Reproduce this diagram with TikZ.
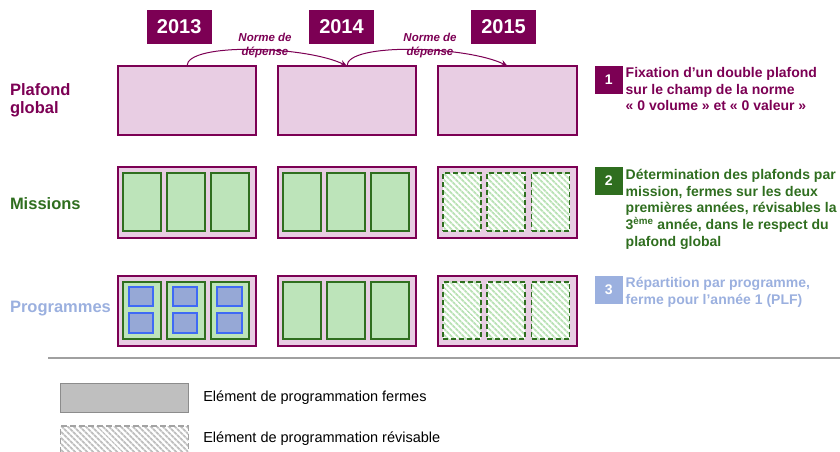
\documentclass[tikz,border=0pt]{standalone}
\usepackage{fontspec}
\setmainfont{Liberation Sans}
\usetikzlibrary{patterns.meta,arrows.meta}
\definecolor{plum}{RGB}{124,0,84}
\definecolor{pinkfill}{RGB}{232,205,227}
\definecolor{gfill}{RGB}{189,228,186}
\definecolor{gline}{RGB}{47,110,31}
\definecolor{bfill}{RGB}{150,168,214}
\definecolor{bline}{RGB}{63,106,245}
\definecolor{plabel}{RGB}{155,176,223}
\definecolor{rulegray}{RGB}{160,160,160}
\definecolor{leggray}{RGB}{191,191,191}
\definecolor{legline}{RGB}{140,140,140}
\definecolor{hatchg}{RGB}{186,226,182}
\begin{document}
\begin{tikzpicture}[x=1pt,y=-1pt,
  every node/.style={inner sep=0pt,outer sep=0pt},
  outerbox/.style={draw=plum,fill=pinkfill,line width=1.8pt,minimum width=138.5pt,anchor=north west},
  greenbox/.style={draw=gline,fill=gfill,line width=1.8pt,minimum width=38pt,anchor=north west},
  hatchbox/.style={draw=gline,line width=1.8pt,dash pattern=on 5pt off 3pt,preaction={fill=white},
     pattern={Lines[angle=-45,distance=4pt,line width=2pt]},pattern color=hatchg,minimum width=38pt,anchor=north west},
  bluebox/.style={draw=bline,fill=bfill,line width=1.8pt,minimum width=24.3pt,minimum height=19.5pt,anchor=north west},
  yearbox/.style={fill=plum,text=white,font=\fontsize{20}{24}\selectfont\bfseries,minimum width=65pt,minimum height=34pt},
  numbox/.style={text=white,font=\fontsize{14}{16}\selectfont\bfseries,minimum width=27.7pt,minimum height=27.5pt,anchor=north west},
  desc/.style={font=\fontsize{14}{16.6}\selectfont\bfseries,align=left,anchor=north west},
  rowlabel/.style={font=\fontsize{16.5}{18}\selectfont\bfseries,align=left},
  normlabel/.style={font=\fontsize{11.5}{13.5}\selectfont\bfseries\itshape,text=plum,align=center},
  normarrow/.style={draw=plum,line width=1pt,-{Stealth[length=7pt,width=6pt,inset=2.5pt]}},
  legtext/.style={font=\fontsize{14.5}{17}\selectfont,anchor=west}
]
\useasboundingbox (0,0) rectangle (840,451);

% years
\node[yearbox] (y1) at (179.2,27) {2013};
\node[yearbox] (y2) at (341.5,27) {2014};
\node[yearbox] (y3) at (503.5,27) {2015};

% plafond row
\node[outerbox,minimum height=69pt] (p1) at (117.7,66) {};
\node[outerbox,minimum height=69pt] (p2) at (277.7,66) {};
\node[outerbox,minimum height=69pt] (p3) at (438.3,66) {};

% arrows
\draw[normarrow] (p1.north) .. controls +(0,-24) and +(-40,-20) .. (p2.north);
\draw[normarrow] (p2.north) .. controls +(0,-24) and +(-40,-20) .. (p3.north);
\node[normlabel] (n1) at (265,45.5) {Norme de\\dépense};
\node[normlabel] (n2) at (430,45.5) {Norme de\\dépense};

% missions row
\node[outerbox,minimum height=70.4pt] (m1) at (117.7,167.3) {};
\node[outerbox,minimum height=70.4pt] (m2) at (277.7,167.3) {};
\node[outerbox,minimum height=70.4pt] (m3) at (438.3,167.3) {};
\foreach \c/\x in {1/117.7,2/277.7}{
  \node[greenbox,minimum height=58.3pt] (m\c a) at (\x+5,172.7) {};
  \node[greenbox,minimum height=58.3pt] (m\c b) at (\x+49,172.7) {};
  \node[greenbox,minimum height=58.3pt] (m\c c) at (\x+93.3,172.7) {};
}
\node[hatchbox,minimum height=58.3pt] (m3a) at (443.3,172.7) {};
\node[hatchbox,minimum height=58.3pt] (m3b) at (487.3,172.7) {};
\node[hatchbox,minimum height=58.3pt] (m3c) at (531.5,172.7) {};

% programmes row
\node[outerbox,minimum height=70pt] (g1) at (117.7,276) {};
\node[outerbox,minimum height=70pt] (g2) at (277.7,276) {};
\node[outerbox,minimum height=70pt] (g3) at (438.3,276) {};
\foreach \c/\x in {1/117.7,2/277.7}{
  \node[greenbox,minimum height=57.6pt] (g\c a) at (\x+5,281.7) {};
  \node[greenbox,minimum height=57.6pt] (g\c b) at (\x+49,281.7) {};
  \node[greenbox,minimum height=57.6pt] (g\c c) at (\x+93.3,281.7) {};
}
\foreach \k/\x in {a/129,b/173,c/217.3}{
  \node[bluebox] (b\k1) at (\x,286.7) {};
  \node[bluebox] (b\k2) at (\x,313.3) {};
}
\node[hatchbox,minimum height=57.6pt] (g3a) at (443.3,281.7) {};
\node[hatchbox,minimum height=57.6pt] (g3b) at (487.3,281.7) {};
\node[hatchbox,minimum height=57.6pt] (g3c) at (531.5,281.7) {};

% row labels
\node[rowlabel,text=plum,anchor=north west] (l1) at (10,84) {Plafond\\global};
\node[rowlabel,text=gline,anchor=base west] (l2) at (10,209) {Missions};
\node[rowlabel,text=plabel,anchor=base west] (l3) at (10,312.3) {Programmes};

% right descriptions
\node[numbox,fill=plum] (k1) at (595,66) {1};
\node[desc,text=plum] (d1) at (625.7,67.5) {Fixation d’un double plafond\\sur le champ de la norme\\« 0 volume » et « 0 valeur »};
\node[numbox,fill=gline] (k2) at (595,167.3) {2};
\node[desc,text=gline] (d2) at (625.7,169.5) {Détermination des plafonds par\\mission, fermes sur les deux\\premières années, révisables la\\3\textsuperscript{ème} année, dans le respect du\\plafond global};
\node[numbox,fill=plabel] (k3) at (595,276) {3};
\node[desc,text=plabel] (d3) at (625.7,277.5) {Répartition par programme,\\ferme pour l’année 1 (PLF)};

% rule
\coordinate (r1) at (48,358);
\coordinate (r2) at (840,358);
\draw[rulegray,line width=1.2pt] (r1) -- (r2);

% legend
\node[draw=legline,fill=leggray,line width=1.5pt,minimum width=127.6pt,minimum height=29.4pt,anchor=north west] (lg1) at (60.7,383.3) {};
\node[legtext] (lt1) at (203.3,397.7) {Elément de programmation fermes};
\node[draw=legline!80,line width=1.5pt,dash pattern=on 6pt off 3pt,preaction={fill=white},
  pattern={Lines[angle=-45,distance=4pt,line width=2pt]},pattern color=leggray,
  minimum width=127.6pt,minimum height=30pt,anchor=north west] (lg2) at (60.7,426) {};
\node[legtext] (lt2) at (203.3,438.3) {Elément de programmation révisable};
\end{tikzpicture}
\end{document}
